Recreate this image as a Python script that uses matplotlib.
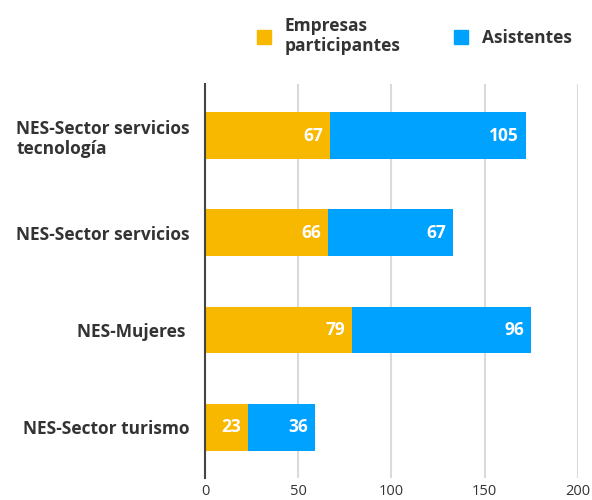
import matplotlib.pyplot as plt
from matplotlib.patches import Patch

plt.rcParams["font.family"] = ["Open Sans", "DejaVu Sans"]

# Data
categorias = [
    "NES-Sector servicios\ntecnología",
    "NES-Sector servicios",
    "NES-Mujeres ",
    "NES-Sector turismo",
]
empresas = [67, 66, 79, 23]
asistentes = [105, 67, 96, 36]
series_names = ["Empresas\nparticipantes", "Asistentes"]

color_emp = "#F9B800"
color_asi = "#00A2FF"
text_color = "#333333"

fig = plt.figure(figsize=(5.92, 5.00), dpi=100)
ax = fig.add_axes([0.3463, 0.044, 0.630, 0.788])

ypos = list(range(len(categorias)))
bar_h = 0.48

b1 = ax.barh(ypos, empresas, height=bar_h, color=color_emp, zorder=3)
b2 = ax.barh(ypos, asistentes, left=empresas, height=bar_h, color=color_asi, zorder=3)

# value labels, right aligned just inside the end of each segment
for bars in (b1, b2):
    for r in bars:
        end = r.get_x() + r.get_width()
        ax.annotate(str(int(r.get_width())), xy=(end, r.get_y() + r.get_height() / 2),
                    xytext=(-5, 0), textcoords="offset points",
                    ha="right", va="center", color="white",
                    fontsize=12.5, fontweight="bold", zorder=4)

ax.set_xlim(0, 200)
ax.set_ylim(3.52, -0.53)
ax.set_xticks([0, 50, 100, 150, 200])
ax.set_yticks(ypos)
ax.set_yticklabels(categorias, fontsize=12.5, fontweight="bold", color=text_color)
for lbl in ax.get_yticklabels():
    lbl.set_multialignment("left")

ax.tick_params(axis="y", length=0, pad=11)
ax.tick_params(axis="x", length=0, pad=4, labelsize=10.5, labelcolor=text_color)

ax.grid(axis="x", color="#DADADA", linewidth=1.5, zorder=0)
for side in ("top", "right", "bottom"):
    ax.spines[side].set_visible(False)
ax.spines["left"].set_color("#444444")
ax.spines["left"].set_linewidth(1.5)
ax.spines["left"].set_zorder(5)

handles = [Patch(color=color_emp), Patch(color=color_asi)]
fig.legend(handles, series_names, loc="center", bbox_to_anchor=(0.70, 0.928),
           ncol=2, frameon=False, handlelength=0.8, handleheight=0.8,
           handletextpad=0.8, columnspacing=3.1,
           prop={"size": 12.5, "weight": "bold"}, labelcolor=text_color)

fig.savefig("out.png", dpi=100)
